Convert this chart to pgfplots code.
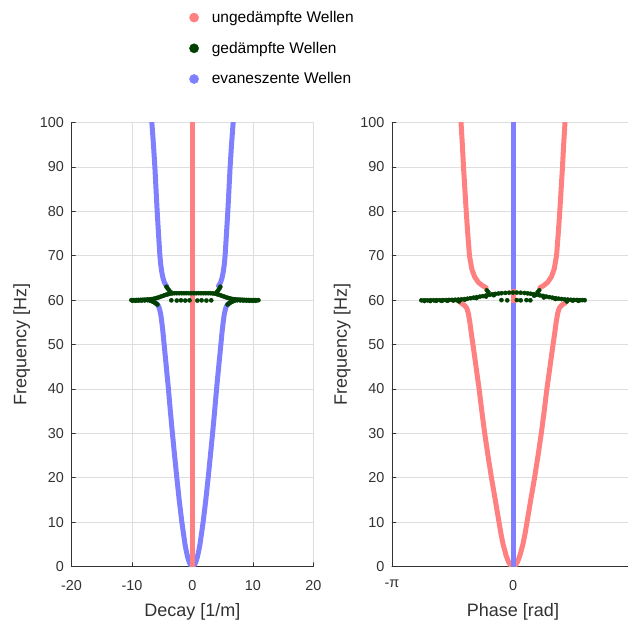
\documentclass[border=0pt]{standalone}
\usepackage{fontspec}
\setmainfont{Liberation Sans}
\usepackage{pgfplots}
\pgfplotsset{compat=1.18}
\definecolor{cred}{RGB}{255,128,128}
\definecolor{cblue}{RGB}{128,128,255}
\definecolor{cgreen}{RGB}{0,64,0}
\definecolor{axgray}{RGB}{50,50,50}
\pgfplotsset{
  myax/.style={
    scale only axis, width=242bp, height=444bp,
    ymin=0, ymax=100, ytick={0,10,...,100},
    axis x line*=bottom, axis y line*=left,
    grid=major, major grid style={draw=black!13, line width=0.5bp},
    tick align=inside, major tick length=4bp,
    tick style={axgray, line width=0.5bp},
    axis line style={axgray, line width=0.6bp},
    ticklabel style={font=\fontsize{14.4bp}{17bp}\selectfont, text=axgray},
    yticklabel style={xshift=-4bp},
    xticklabel style={yshift=-10bp},
    label style={font=\fontsize{18bp}{21bp}\selectfont, text=axgray},
    xlabel style={yshift=-6bp},
    ylabel style={yshift=3bp},
    /pgf/number format/assume math mode=true,
    ylabel={Frequency [Hz]},
    line join=round, line cap=round,
  },
  curve/.style={line width=5bp, no marks},
  gpts/.style={only marks, mark=*, mark size=2.1bp, cgreen, draw=cgreen, fill=cgreen},
}
\begin{document}
\begin{tikzpicture}
\useasboundingbox (0,0) rectangle (628bp,624bp);
% ---------------- left panel: decay ----------------
\begin{axis}[myax, at={(71.5bp,57.5bp)}, anchor=south west,
  xmin=-20, xmax=20, xtick={-20,-10,...,20},
  xlabel={Decay [1/m]},
  legend style={draw=none, fill=none, at={(axis description cs:0.4735,1.2600)}, anchor=north west,
    font=\fontsize{15.5bp}{18bp}\selectfont, row sep=14bp},
  legend image code/.code={\draw[only marks] plot coordinates {(0cm,0cm)}; \path (-4.6bp,0bp) (15.6bp,0bp);},
  legend cell align=left]
\addlegendimage{only marks, mark=*, mark size=4.6bp, cred}
\addlegendentry{ungedämpfte Wellen}
\addlegendimage{only marks, mark=*, mark size=4.6bp, cgreen}
\addlegendentry{gedämpfte Wellen}
\addlegendimage{only marks, mark=*, mark size=4.6bp, cblue}
\addlegendentry{evaneszente Wellen}
% damped waves
\addplot[gpts, forget plot] coordinates {
(-10.1,60.0) (-9.8,60.0) (-9.5,60.0) (-9.2,60.02) (-8.9,60.03) (-8.6,60.05) (-8.3,60.06) (-8.0,60.08) (-7.7,60.1) (-7.4,60.12) (-7.1,60.15) (-6.8,60.2) (-6.5,60.27) (-6.2,60.37) (-5.9,60.48) (-5.6,60.6) (-5.3,60.75) (-5.0,60.9) (-4.7,61.05) (-4.4,61.2) (-4.1,61.3) (-3.8,61.42)
(-9.9,59.85) (-9.4,59.85) (-8.9,59.88) (-8.4,59.9) (-7.9,59.93) (-7.4,59.97) (-6.9,60.02)
(-3.4,61.5) (-3.0,61.55) (-2.6,61.55) (-2.2,61.55) (-1.8,61.55) (-1.4,61.55) (-1.0,61.55) (-0.6,61.55) (-0.2,61.55) (0.2,61.55) (0.6,61.55) (1.0,61.55) (1.4,61.55) (1.8,61.55) (2.2,61.55) (2.6,61.55) (3.0,61.55) (3.4,61.5) (3.8,61.45)
(-3.6,61.8) (-3.85,62.2) (-4.1,62.6) (-4.3,63.0)
(4.0,61.8) (4.25,62.2) (4.45,62.6) (4.6,63.0)
(4.1,61.3) (4.4,61.2) (4.7,61.05) (5.0,60.9) (5.3,60.75) (5.6,60.6) (5.9,60.48) (6.2,60.37) (6.5,60.27) (6.8,60.2) (7.1,60.15) (7.4,60.12) (7.7,60.1) (8.0,60.08) (8.3,60.06) (8.6,60.05) (8.9,60.03) (9.2,60.02) (9.5,60.0) (9.8,60.0) (10.1,60.0) (10.4,60.0) (10.7,59.98) (10.9,59.98)
(6.9,60.02) (7.4,59.97) (7.9,59.93) (8.4,59.9) (8.9,59.88) (9.4,59.85) (9.9,59.85) (10.4,59.85)
(-5.8,59.0) (-6.0,59.2) (-6.2,59.4) (-6.4,59.55) (-6.6,59.7) (-6.8,59.8) (-7.0,59.9)
(5.8,59.0) (6.0,59.2) (6.2,59.4) (6.4,59.55) (6.6,59.7) (6.8,59.8) (7.0,59.9)
(-3.5,59.95) (-2.6,59.9) (-1.9,59.95) (-1.2,59.9) (-0.5,59.95) (0.8,59.9) (1.5,59.95) (2.3,59.9) (3.1,59.95)
};
% evanescent waves, lower branch
\addplot[curve, cblue, forget plot] coordinates {
(-6.1,59.4) (-5.85,59.1) (-5.64,58.7) (-5.5,58.2) (-5.36,57.5) (-5.22,56.5) (-5.07,55) (-4.9,53) (-4.69,50) (-4.33,45) (-3.98,40) (-3.66,35) (-3.32,30) (-2.96,25) (-2.59,20) (-2.2,15) (-1.76,10) (-1.5,7.5) (-1.24,5) (-1.03,3.5) (-0.78,2) (-0.55,1) (-0.38,0.5) (-0.2,0.13) (0,0)
(0.2,0.13) (0.38,0.5) (0.55,1) (0.78,2) (1.03,3.5) (1.24,5) (1.5,7.5) (1.76,10) (2.2,15) (2.59,20) (2.96,25) (3.32,30) (3.66,35) (3.98,40) (4.33,45) (4.69,50) (4.9,53) (5.07,55) (5.22,56.5) (5.36,57.5) (5.5,58.2) (5.64,58.7) (5.85,59.1) (6.1,59.4)
};
% evanescent waves, upper branch
\addplot[curve, cblue, forget plot] coordinates {
(-4.3,63.2) (-4.45,63.5) (-4.65,64) (-4.88,65) (-5.1,66.5) (-5.25,68) (-5.39,70) (-5.62,75) (-5.84,80) (-6.03,85) (-6.22,90) (-6.45,95) (-6.72,100)
};
\addplot[curve, cblue, forget plot] coordinates {
(4.3,63.2) (4.45,63.5) (4.65,64) (4.88,65) (5.1,66.5) (5.25,68) (5.39,70) (5.62,75) (5.84,80) (6.03,85) (6.22,90) (6.45,95) (6.72,100)
};
% undamped waves
\addplot[curve, cred, forget plot] coordinates {(0,0) (0,100)};
\end{axis}
% ---------------- right panel: phase ----------------
\begin{axis}[myax, at={(392bp,57.5bp)}, anchor=south west,
  xmin=-3.14159, xmax=3.14159, xtick={-3.14159,0}, xticklabels={-π,0},
  extra x ticks={3.14159}, extra x tick labels={},
  xlabel={Phase [rad]}]
\addplot[gpts] coordinates {
(-2.38,59.95) (-2.3,59.95) (-2.22,59.95) (-2.14,59.96) (-2.06,59.97) (-1.98,59.98) (-1.9,59.99) (-1.82,60.0) (-1.74,60.01) (-1.66,60.03) (-1.58,60.05) (-1.5,60.08) (-1.42,60.11) (-1.34,60.16) (-1.26,60.23) (-1.18,60.32) (-1.1,60.43) (-1.02,60.55) (-0.94,60.66) (-0.86,60.78) (-0.78,60.9) (-0.7,61.03) (-0.62,61.17) (-0.54,61.3) (-0.46,61.4) (-0.38,61.48) (-0.3,61.55) (-0.2,61.62) (-0.1,61.67) (0,61.7) (0.1,61.69) (0.2,61.65) (0.3,61.6) (0.38,61.52) (0.46,61.43) (0.54,61.32) (0.62,61.2) (0.7,61.07) (0.78,60.93) (0.86,60.8) (0.94,60.67) (1.02,60.55) (1.1,60.43) (1.18,60.33) (1.26,60.24) (1.34,60.17) (1.42,60.11) (1.5,60.07) (1.58,60.04) (1.66,60.02) (1.74,60.0) (1.8,60.0) (1.86,59.98)
(-2.3,59.8) (-2.15,59.8) (-2.0,59.82) (-1.85,59.83) (-1.7,59.85) (-1.55,59.9) (-1.45,59.95) (-1.25,60.1) (-0.95,60.45) (-0.7,60.8) (-0.5,61.1)
(0.55,61.0) (0.8,60.6) (1.1,60.25) (1.4,59.95) (1.55,59.88) (1.7,59.85)
(-0.68,62.2) (-0.64,61.8) (0.68,62.2) (0.64,61.8) (-1.4,59.7) (1.4,59.7)
(-0.3,60.0) (-0.15,59.95) (0.1,60.0) (0.2,59.95) (0.35,60.0) (0.45,59.95)
};
% undamped waves, lower branch
\addplot[curve, cred] coordinates {
(-1.36,59.4) (-1.27,58.9) (-1.2,58.2) (-1.16,57) (-1.12,55) (-1.09,53) (-1.04,50) (-0.96,45) (-0.88,40) (-0.81,35) (-0.735,30) (-0.65,25) (-0.56,20) (-0.46,15) (-0.364,10) (-0.315,7.5) (-0.257,5) (-0.18,2.5) (-0.115,1) (-0.06,0.27) (0,0)
(0.06,0.27) (0.115,1) (0.18,2.5) (0.257,5) (0.315,7.5) (0.364,10) (0.46,15) (0.56,20) (0.65,25) (0.735,30) (0.81,35) (0.88,40) (0.96,45) (1.04,50) (1.09,53) (1.12,55) (1.16,57) (1.2,58.2) (1.27,58.9) (1.36,59.4)
};
% undamped waves, upper branch
\addplot[curve, cred] coordinates {
(-0.7,62.8) (-0.8,63.3) (-0.9,64) (-1.0,65.3) (-1.07,67) (-1.13,70) (-1.175,75) (-1.215,80) (-1.25,85) (-1.285,90) (-1.315,95) (-1.35,100)
};
\addplot[curve, cred] coordinates {
(0.7,62.8) (0.8,63.3) (0.9,64) (1.0,65.3) (1.07,67) (1.13,70) (1.175,75) (1.215,80) (1.25,85) (1.285,90) (1.315,95) (1.35,100)
};
% evanescent waves
\addplot[curve, cblue] coordinates {(0,0) (0,100)};
\addplot[curve, cred, line cap=butt] coordinates {(0,59.3) (0,62.6)};
\end{axis}
\end{tikzpicture}
\end{document}
